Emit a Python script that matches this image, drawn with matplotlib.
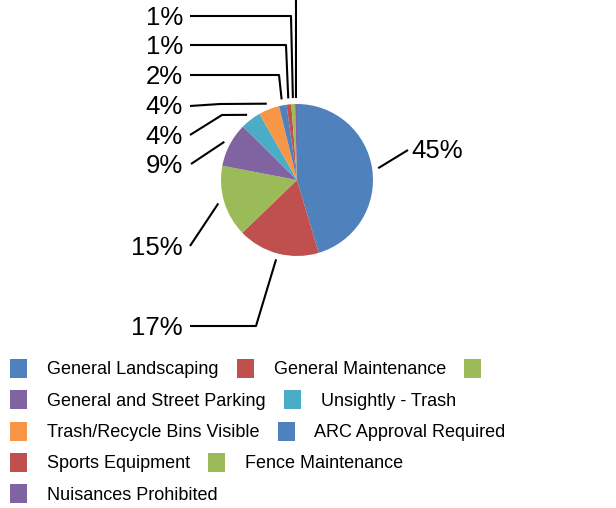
import numpy as np
import matplotlib

matplotlib.use("Agg")
import matplotlib.pyplot as plt
from matplotlib.patches import Rectangle

# slice shares (percent), clockwise from 12 o'clock
categories = [
    "General Landscaping",
    "General Maintenance",
    "",
    "General and Street Parking",
    "Unsightly - Trash",
    "Trash/Recycle Bins Visible",
    "ARC Approval Required",
    "Sports Equipment",
    "Fence Maintenance",
    "Nuisances Prohibited",
]
shares = [45.4, 17.4, 15.2, 9.4, 4.4, 4.4, 1.6, 1.0, 0.8, 0.4]
colors = ["#4F81BD", "#C0504D", "#9BBB59", "#8064A2", "#4BACC6",
          "#F79646", "#4F81BD", "#C0504D", "#9BBB59", "#8064A2"]
legend_rows = [[0, 1, 2], [3, 4], [5, 6], [7, 8], [9]]

W, H = 616, 508
CX, CY, R = 297, 180, 76
FONT = "Liberation Sans"

# label text position / leader elbows, in pixels from the top-left
label_layout = [
    (411, 151, "left", [(408, 150)]),
    (183, 328, "right", [(256, 326), (190, 326)]),
    (183, 248, "right", [(190, 246)]),
    (183, 166, "right", [(191, 164)]),
    (183, 137, "right", [(222, 115), (190, 135)]),
    (183, 107, "right", [(220, 104), (190, 106)]),
    (183, 77, "right", [(279, 75), (190, 75)]),
    (183, 47, "right", [(286, 45), (190, 45)]),
    (183, 18, "right", [(291, 16), (190, 16)]),
    (183, -40, "right", [(296, -40), (190, -40)]),
]

fig = plt.figure(figsize=(W / 100, H / 100), dpi=100)

ax = fig.add_axes([(CX - R) / W, (H - CY - R) / H, 2 * R / W, 2 * R / H])
ax.pie(shares, colors=colors, startangle=90, counterclock=False,
       wedgeprops={"linewidth": 0})
ax.set_xlim(-1, 1)
ax.set_ylim(-1, 1)
ax.set_aspect("equal")

# overlay in pixel units for labels and legend
ov = fig.add_axes([0, 0, 1, 1])
ov.set_xlim(0, W)
ov.set_ylim(H, 0)
ov.axis("off")
ov.patch.set_alpha(0)

fractions = np.array(shares) / sum(shares)
mids = (np.cumsum(fractions) - fractions / 2) * 2 * np.pi
for frac, mid, (tx, ty, ha, elbows) in zip(fractions, mids, label_layout):
    ax_pt = (CX + 1.08 * R * np.sin(mid), CY - 1.08 * R * np.cos(mid))
    pts = [ax_pt] + elbows
    ov.plot([p[0] for p in pts], [p[1] for p in pts], color="black",
            lw=1.5, clip_on=False, solid_capstyle="butt")
    if ty > 0:
        ov.text(tx, ty, f"{frac * 100:.0f}%", ha=ha, va="center",
                fontsize=18.5, family=FONT)

# legend laid out as a flow of entries
renderer = fig.canvas.get_renderer()
row_y0, row_step = 368.5, 31.25
for r, row in enumerate(legend_rows):
    y = row_y0 + r * row_step
    x = 10
    for i in row:
        ov.add_patch(Rectangle((x, y - 9.5), 17, 19, facecolor=colors[i],
                               edgecolor="none"))
        t = ov.text(x + 37, y + 1.5, categories[i], ha="left", va="center",
                    fontsize=13, family=FONT)
        bb = t.get_window_extent(renderer=renderer)
        x = x + 37 + bb.width + 18

fig.savefig("out.png", dpi=100)
